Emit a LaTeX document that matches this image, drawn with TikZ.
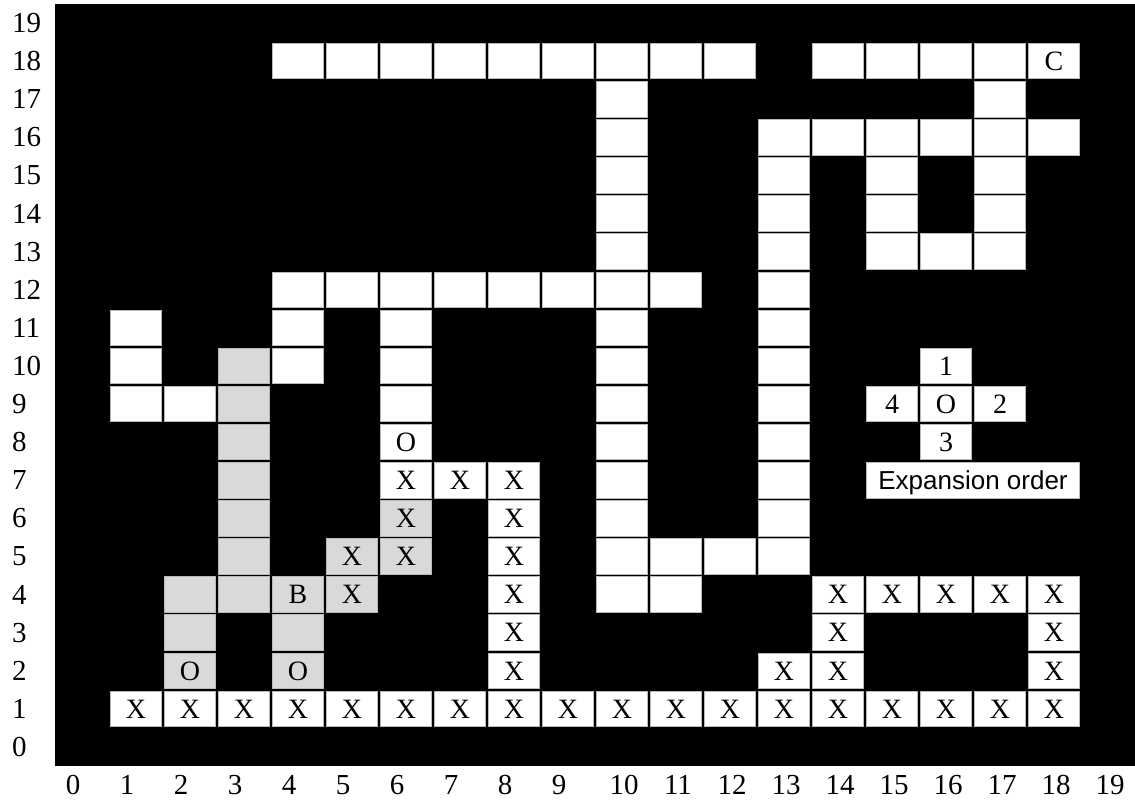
\documentclass[tikz,border=0pt]{standalone}
\usepackage{fontspec}
\setmainfont{Liberation Serif}
\newfontfamily\arialf{Liberation Sans}
\newcommand\cellfont{\fontsize{28}{28}\selectfont}
\newcommand\axfont{\fontsize{29}{29}\selectfont}
\tikzset{
  wcell/.style={fill=white,draw=gray!55,line width=0.9pt},
  gcell/.style={fill=gray!30,draw=gray!55,line width=0.9pt},
  ctext/.style={font=\cellfont,inner sep=0pt,anchor=base},
  axlab/.style={font=\axfont,inner sep=0pt},
}
\newcommand\mycell[4]{%
  \path[#1] ({55+54*(#2)+1.3},{36+38.1*(#3)+1.3}) rectangle ({55+54*(#2)+52.7},{36+38.1*(#3)+36.8});
  \node[ctext] (c-#2-#3) at ({55+54*(#2)+27},{36+38.1*(#3)+19.05-9.3}) {#4};
}
\begin{document}
\begin{tikzpicture}[x=1pt,y=1pt]
\useasboundingbox (0,0) rectangle (1135,802);
\fill[white] (0,0) rectangle (1135,802);
\fill[black] (55,36) rectangle (1135,798);
% axis labels
\foreach \r in {0,...,19} \node[axlab,anchor=west] (r\r) at (12,{36+38.1*\r+19.05}) {\r};
\foreach \c in {0,...,9} \node[axlab] (x\c) at ({73+54*\c},17) {\c};
\foreach \c in {10,...,19} \node[axlab] (x\c) at ({84+54*\c},17) {\c};
% plain white cells
\foreach \r/\cols in {18/{4,5,6,7,8,9,10,11,12,14,15,16,17},
                      17/{10,17},
                      16/{10,13,14,15,16,17,18},
                      15/{10,13,15,17},
                      14/{10,13,15,17},
                      13/{10,13,15,16,17},
                      12/{4,5,6,7,8,9,10,11,13},
                      11/{1,4,6,10,13},
                      10/{1,4,6,10,13},
                      9/{1,2,6,10,13},
                      8/{10,13},
                      7/{10,13},
                      6/{10,13},
                      5/{10,11,12,13},
                      4/{10,11}}
  {\foreach \c in \cols {\mycell{wcell}{\c}{\r}{}}}
% white cells with X
\foreach \r/\cols in {7/{6,7,8},
                      6/{8},
                      5/{8},
                      4/{8,14,15,16,17,18},
                      3/{8,14,18},
                      2/{8,13,14,18},
                      1/{1,2,3,4,5,6,7,8,9,10,11,12,13,14,15,16,17,18}}
  {\foreach \c in \cols {\mycell{wcell}{\c}{\r}{X}}}
% labelled white cells
\mycell{wcell}{18}{18}{C}
\mycell{wcell}{6}{8}{O}
\mycell{wcell}{16}{10}{1}
\mycell{wcell}{15}{9}{4}
\mycell{wcell}{16}{9}{O}
\mycell{wcell}{17}{9}{2}
\mycell{wcell}{16}{8}{3}
% gray cells
\foreach \r/\cols in {10/{3},9/{3},8/{3},7/{3},6/{3},5/{3},4/{2,3},3/{2,4}}
  {\foreach \c in \cols {\mycell{gcell}{\c}{\r}{}}}
\mycell{gcell}{6}{6}{X}
\mycell{gcell}{5}{5}{X}
\mycell{gcell}{6}{5}{X}
\mycell{gcell}{4}{4}{B}
\mycell{gcell}{5}{4}{X}
\mycell{gcell}{2}{2}{O}
\mycell{gcell}{4}{2}{O}
% legend box
\path[wcell] ({55+54*15+1.3},{36+38.1*7+1.3}) rectangle ({55+54*19-1.3},{36+38.1*8-1.3});
\node[inner sep=0pt,anchor=base,font=\arialf\fontsize{26}{26}\selectfont] (legend) at ({55+54*17},{36+38.1*7+19.05-9.3}) {Expansion order};
\end{tikzpicture}
\end{document}
